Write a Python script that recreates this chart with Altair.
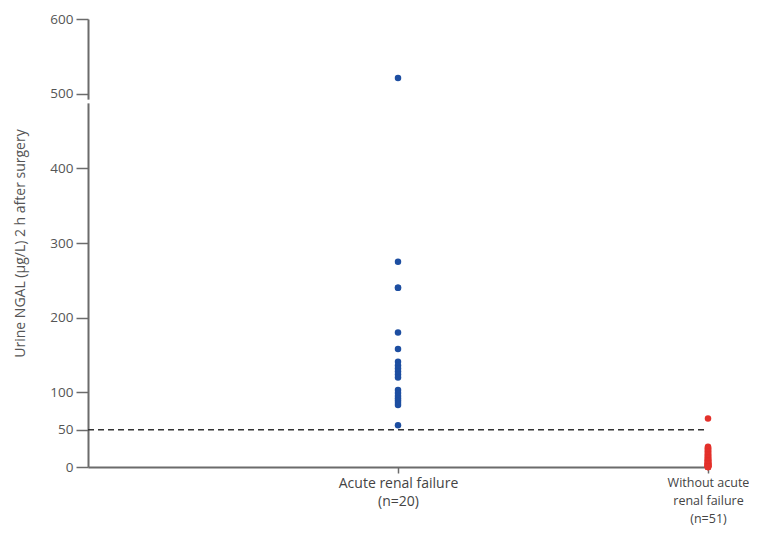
import altair as alt
import pandas as pd

# Data
acute_values = [521, 275, 240, 240, 180, 158, 141, 136, 132, 128, 124, 120,
                103, 99, 95, 92, 89, 86, 83, 56]
without_values = [65, 27, 26, 25, 24, 23, 22, 21, 20, 19, 18, 17, 16, 15, 15,
                  14, 13, 12, 12, 11, 10, 10, 9, 9, 8, 8, 7, 7, 6, 6, 5, 5, 5,
                  4, 4, 4, 3, 3, 3, 2, 2, 2, 2, 1, 1, 1, 1, 0, 0, 0, 0]
group_labels = ["Acute renal failure", "Without acute renal failure"]
label_lines = [["Acute renal failure", "(n=20)"],
               ["Without acute", "renal failure", "(n=51)"]]
threshold = [50]
y_ticks = [0, 50, 100, 200, 300, 400, 500, 600]

rows = [{"group": group_labels[0], "pos": 1, "ngal": v} for v in acute_values]
rows += [{"group": group_labels[1], "pos": 2, "ngal": v} for v in without_values]
df = pd.DataFrame(rows)

FONT = "'Open Sans', sans-serif"
GRAY = "#6b6b6b"

label_expr = ("datum.value == 1 ? ['" + "','".join(label_lines[0]) + "'] : "
              "(datum.value == 2 ? ['" + "','".join(label_lines[1]) + "'] : '')")

x_scale = alt.Scale(domain=[0, 2], nice=False, zero=False)
y_scale = alt.Scale(domain=[0, 600], nice=False)

points = alt.Chart(df).mark_circle(size=42, opacity=1).encode(
    x=alt.X("pos:Q", scale=x_scale,
            axis=alt.Axis(values=[1, 2], labelExpr=label_expr, title=None,
                          grid=False, domainColor=GRAY, domainWidth=2,
                          tickColor=GRAY, tickWidth=1.5, tickSize=6,
                          labelColor="#444", labelFont=FONT,
                          labelFontSize={"condition": {"test": "datum.value == 2", "value": 12.5},
                                         "value": 14},
                          labelPadding=3, labelLineHeight=18,
                          labelAlign="center", labelBaseline="top")),
    y=alt.Y("ngal:Q", scale=y_scale,
            axis=alt.Axis(values=y_ticks, title="Urine NGAL (µg/L) 2 h after surgery",
                          grid=False, domainColor=GRAY, domainWidth=2,
                          tickColor=GRAY, tickWidth=1.5, tickSize=12,
                          labelColor="#555", labelFont=FONT, labelFontSize=13.5,
                          labelPadding=3, titleFont=FONT, titleFontSize=14,
                          titleColor="#555", titleFontWeight="normal",
                          titlePadding=22)),
    color=alt.Color("group:N", scale=alt.Scale(domain=group_labels,
                                               range=["#1d4ea1", "#e3312b"]),
                    legend=None),
)

rule = alt.Chart(pd.DataFrame({"t": threshold})).mark_rule(
    color="#333", strokeDash=[6, 4], strokeWidth=1.5
).encode(y=alt.Y("t:Q", scale=y_scale), x=alt.value(0), x2=alt.value(620))

brk = alt.Chart(pd.DataFrame({"a": [487], "b": [492]})).mark_rule(
    color="white", strokeWidth=5
).encode(y=alt.Y("a:Q", scale=y_scale), y2="b:Q", x=alt.value(0))

chart = alt.layer(rule, points, brk).properties(
    width=620, height=448,
    background="white",
    autosize=alt.AutoSizeParams(type="none"),
    padding={"left": 80, "top": 11, "right": 41, "bottom": 63},
).configure_view(strokeWidth=0, stroke="transparent")

chart.save("out.html", embed_options={"renderer": "svg", "actions": False})
